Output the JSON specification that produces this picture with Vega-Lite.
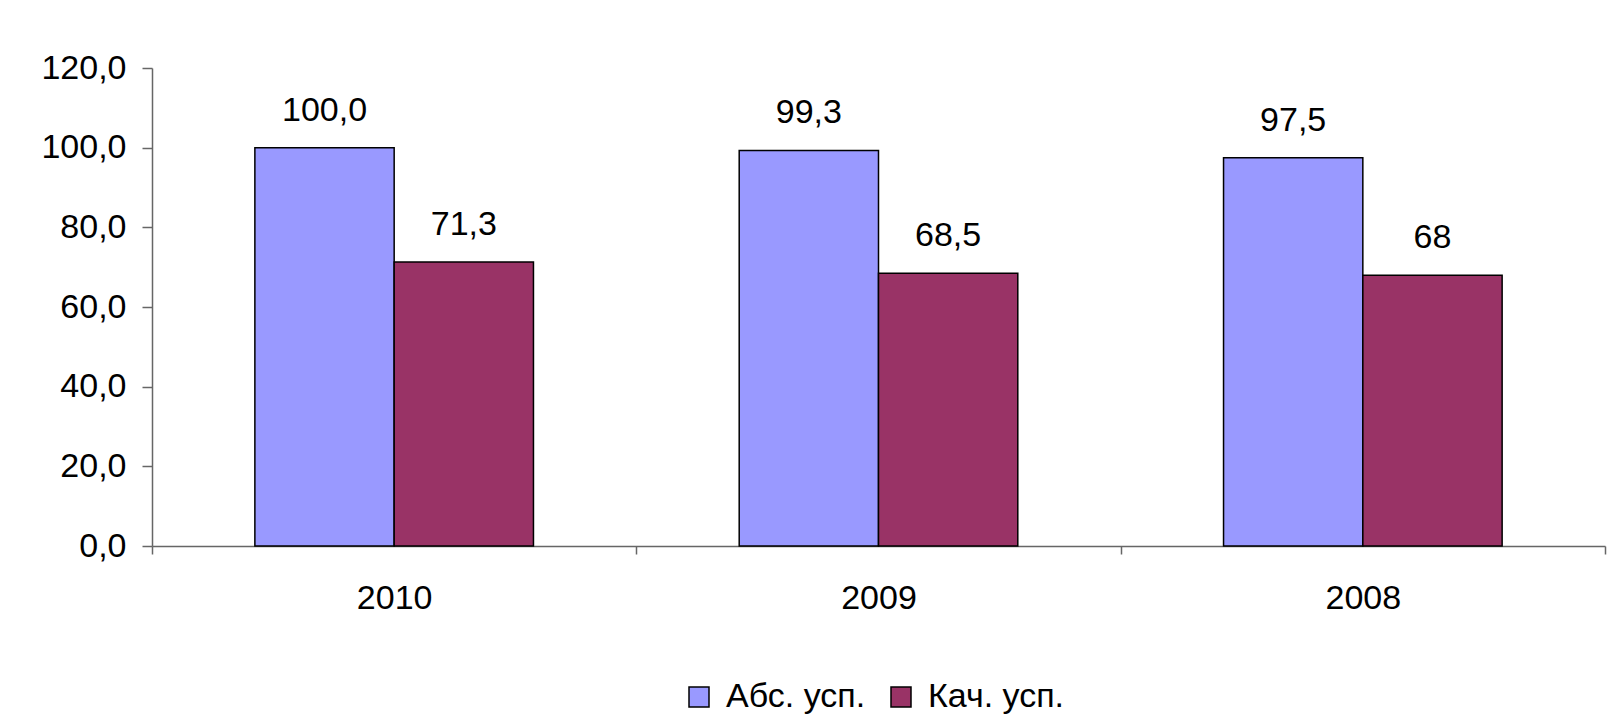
{
  "$schema": "https://vega.github.io/schema/vega-lite/v6.json",
  "autosize": {"type": "none"},
  "width": 1453,
  "height": 478,
  "padding": {"left": 152, "top": 68, "right": 11, "bottom": 178},
  "background": "white",
  "config": {
    "locale": {"number": {"decimal": ",", "thousands": " ", "grouping": [3], "currency": ["", ""]}},
    "view": {"stroke": null},
    "font": "Liberation Sans"
  },
  "data": {
    "values": [
      {"year": "2010", "series": "Абс. усп.", "value": 100.0, "label": "100,0"},
      {"year": "2010", "series": "Кач. усп.", "value": 71.3, "label": "71,3"},
      {"year": "2009", "series": "Абс. усп.", "value": 99.3, "label": "99,3"},
      {"year": "2009", "series": "Кач. усп.", "value": 68.5, "label": "68,5"},
      {"year": "2008", "series": "Абс. усп.", "value": 97.5, "label": "97,5"},
      {"year": "2008", "series": "Кач. усп.", "value": 68.0, "label": "68"}
    ]
  },
  "encoding": {
    "x": {
      "field": "year", "type": "nominal", "sort": ["2010", "2009", "2008"],
      "scale": {"paddingInner": 0, "paddingOuter": 0},
      "axis": {
        "title": null, "labelAngle": 0, "tickBand": "extent", "tickSize": 8,
        "labelPadding": 27, "labelFontSize": 34, "labelColor": "#000000",
        "labelFont": "Liberation Sans", "domainColor": "#666666", "tickColor": "#666666",
        "domainWidth": 1.5, "tickWidth": 1.5
      }
    },
    "xOffset": {
      "field": "series", "type": "nominal", "sort": ["Абс. усп.", "Кач. усп."],
      "scale": {"paddingInner": 0, "paddingOuter": 0.7385}
    },
    "y": {
      "field": "value", "type": "quantitative",
      "scale": {"domain": [0, 120], "nice": false},
      "axis": {
        "title": null, "values": [0, 20, 40, 60, 80, 100, 120], "format": ".1f",
        "grid": false, "tickSize": 10, "labelPadding": 16, "labelFontSize": 34,
        "labelColor": "#000000", "labelFont": "Liberation Sans",
        "domainColor": "#666666", "tickColor": "#666666", "domainWidth": 1.5, "tickWidth": 1.5
      }
    }
  },
  "layer": [
    {
      "mark": {"type": "bar", "stroke": "#000000", "strokeWidth": 1.5},
      "encoding": {
        "color": {
          "field": "series", "type": "nominal",
          "scale": {"domain": ["Абс. усп.", "Кач. усп."], "range": ["#9999FF", "#993366"]},
          "legend": {
            "title": null, "orient": "none", "legendX": 530, "legendY": 612,
            "direction": "horizontal",
            "symbolType": "square", "symbolSize": 400, "symbolStrokeColor": "#000000",
            "symbolStrokeWidth": 1.5, "symbolOpacity": 1,
            "labelFontSize": 34, "labelFont": "Liberation Sans", "labelColor": "#000000",
            "labelOffset": 10, "columnPadding": 18, "labelLimit": 400
          }
        }
      }
    },
    {
      "mark": {"type": "text", "dy": -27, "fontSize": 34, "font": "Liberation Sans", "color": "#000000", "baseline": "alphabetic"},
      "encoding": {"text": {"field": "label"}}
    }
  ]
}
